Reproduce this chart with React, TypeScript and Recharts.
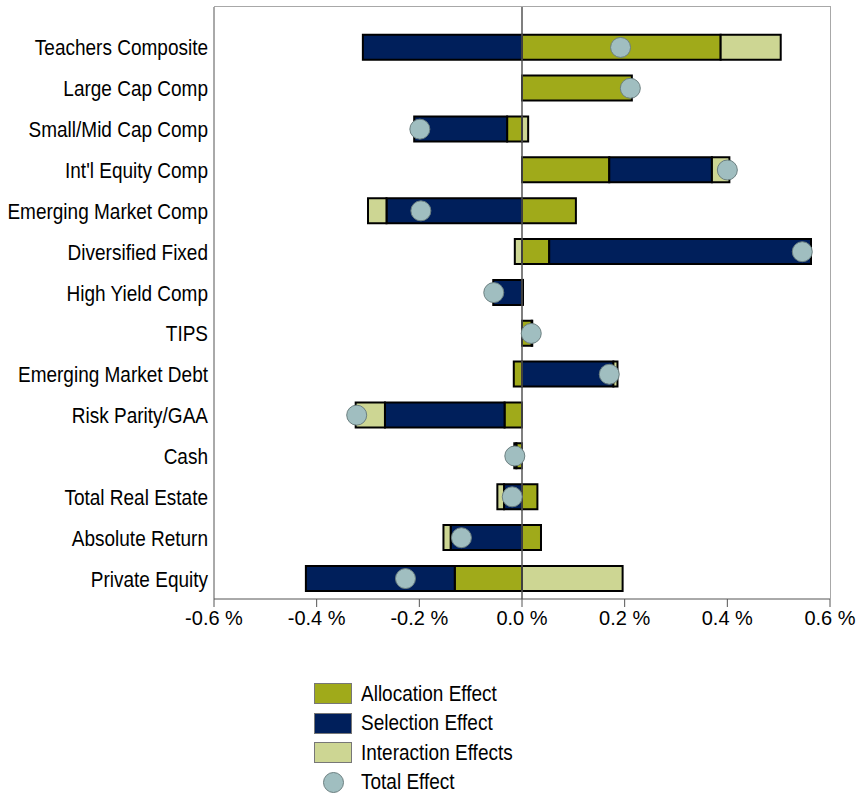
import {
  Bar,
  ComposedChart,
  Line,
  ReferenceLine,
  XAxis,
  YAxis,
} from "recharts"

const categories = [
  "Teachers Composite",
  "Large Cap Comp",
  "Small/Mid Cap Comp",
  "Int'l Equity Comp",
  "Emerging Market Comp",
  "Diversified Fixed",
  "High Yield Comp",
  "TIPS",
  "Emerging Market Debt",
  "Risk Parity/GAA",
  "Cash",
  "Total Real Estate",
  "Absolute Return",
  "Private Equity",
]
const allocation = [0.387, 0.214, -0.029, 0.17, 0.105, 0.053, 0.002, 0.019, -0.016, -0.034, -0.011, 0.03, 0.037, -0.131]
const selection = [-0.31, 0, -0.181, 0.2, -0.264, 0.51, -0.056, 0.001, 0.178, -0.233, -0.004, -0.035, -0.139, -0.29]
const interaction = [0.117, 0, 0.012, 0.034, -0.036, -0.014, 0, 0, 0.008, -0.057, 0, -0.013, -0.014, 0.196]
const total = [0.192, 0.211, -0.199, 0.4, -0.197, 0.546, -0.055, 0.018, 0.17, -0.322, -0.014, -0.019, -0.118, -0.227]
const xTicks = [-0.6, -0.4, -0.2, 0, 0.2, 0.4, 0.6]

const COLORS = {
  allocation: "#a0aa1a",
  selection: "#001f5b",
  interaction: "#cdd693",
  total: "#a0bec0",
}
const FONT = "'Liberation Sans', Arial, sans-serif"
const STRETCH = 1.15

const rows = categories.map((name, i) => ({
  name,
  allocation: allocation[i],
  selection: selection[i],
  interaction: interaction[i],
  total: total[i],
}))

const legendItems = [
  { label: "Allocation Effect", color: COLORS.allocation, kind: "box" },
  { label: "Selection Effect", color: COLORS.selection, kind: "box" },
  { label: "Interaction Effects", color: COLORS.interaction, kind: "box" },
  { label: "Total Effect", color: COLORS.total, kind: "dot" },
]

function TotalDot(props: any) {
  const { cx, cy } = props
  if (cx == null || cy == null) return null
  return <circle cx={cx} cy={cy} r={10} fill={COLORS.total} stroke="#6b7f80" strokeWidth={1} />
}

// category labels look a bit taller than plain Arial in the source
function CategoryTick(props: any) {
  const { x, y, payload } = props
  return (
    <text
      transform={`translate(${x - 4},${y}) scale(1,${STRETCH})`}
      textAnchor="end"
      dominantBaseline="central"
      fontSize={19}
      fontFamily={FONT}
      fill="#000"
    >
      {payload.value}
    </text>
  )
}

export default function App() {
  return (
    <div style={{ position: "absolute", left: 0, top: 0, width: 858, height: 794, background: "#fff", fontFamily: FONT }}>
      {/* light frame on top and right of the plot */}
      <div
        style={{
          position: "absolute",
          left: 214,
          top: 6,
          width: 616,
          height: 592,
          borderTop: "1.5px solid #a8a8a8",
          borderRight: "1.5px solid #a8a8a8",
          pointerEvents: "none",
        }}
      />
      <ComposedChart
        width={858}
        height={650}
        data={rows}
        layout="vertical"
        stackOffset="sign"
        barCategoryGap="19%"
        margin={{ top: 7, right: 28, left: 0, bottom: 11 }}
      >
        <XAxis
          type="number"
          domain={[-0.6, 0.6]}
          ticks={xTicks}
          tickFormatter={(v: number) => `${v.toFixed(1)} %`}
          tick={{ fontSize: 20, fill: "#000", fontFamily: FONT }}
          tickSize={8}
          tickMargin={4}
          stroke="#555"
          height={40}
        />
        <YAxis
          type="category"
          dataKey="name"
          width={214}
          tick={<CategoryTick />}
          tickLine={false}
          tickSize={0}
          padding={{ top: 20, bottom: 0 }}
          stroke="#555"
        />
        <Bar dataKey="allocation" stackId="a" fill={COLORS.allocation} stroke="#000" strokeWidth={2} isAnimationActive={false} />
        <Bar dataKey="selection" stackId="a" fill={COLORS.selection} stroke="#000" strokeWidth={2} isAnimationActive={false} />
        <Bar dataKey="interaction" stackId="a" fill={COLORS.interaction} stroke="#000" strokeWidth={2} isAnimationActive={false} />
        <ReferenceLine x={0} stroke="#555" strokeWidth={1.5} />
        <Line
          dataKey="total"
          stroke="none"
          dot={<TotalDot />}
          activeDot={false}
          legendType="none"
          isAnimationActive={false}
        />
      </ComposedChart>
      <div style={{ position: "absolute", left: 314, top: 679 }}>
        {legendItems.map((item) => (
          <div key={item.label} style={{ display: "flex", alignItems: "center", height: 29.5 }}>
            <div style={{ width: 38, display: "flex", justifyContent: "center" }}>
              {item.kind === "box" ? (
                <div style={{ width: 36, height: 19, background: item.color, border: "1px solid #777" }} />
              ) : (
                <div style={{ width: 19, height: 19, borderRadius: "50%", background: item.color, border: "1px solid #6b7f80" }} />
              )}
            </div>
            <span style={{ marginLeft: 9, fontSize: 19, color: "#000", display: "inline-block", transform: `scaleY(${STRETCH})` }}>
              {item.label}
            </span>
          </div>
        ))}
      </div>
    </div>
  )
}
